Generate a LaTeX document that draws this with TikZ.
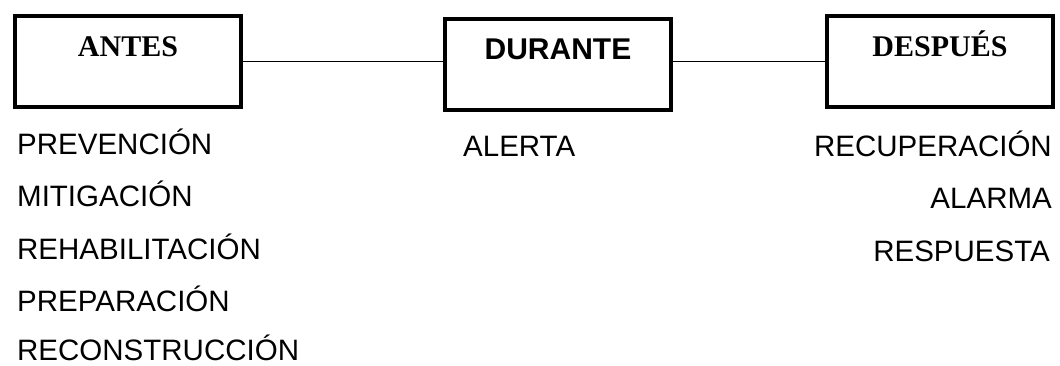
\documentclass[tikz,border=0pt]{standalone}
\usepackage{fontspec}
\setmainfont{Liberation Sans}
\newfontfamily\phaseserif{Liberation Serif}
\usepackage{tikz}

\tikzset{
	phasebox/.style={draw,line width=4.5pt,inner sep=0pt,anchor=base,
		minimum width=226pt,text height=41pt,text depth=50pt,
		font=\fontsize{30}{32}\selectfont\bfseries},
	link/.style={line width=1.5pt},
	item/.style={inner sep=0pt,font=\fontsize{29.5}{31}\selectfont}
}

\begin{document}
\begin{tikzpicture}[x=1pt,y=-1pt]
	\useasboundingbox (0,0) rectangle (1060,366);
	\node [phasebox,font=\fontsize{30}{32}\selectfont\phaseserif\bfseries] (antes) at (128,57) {ANTES};
	\node [phasebox] (durante) at (558,60) {DURANTE};
	\node [phasebox,font=\fontsize{30}{32}\selectfont\phaseserif\bfseries] (despues) at (940,57) {DESPUÉS};
	\draw [link] (antes.east) -- (antes.east -| durante.west);
	\draw [link] (durante.east |- antes.east) -- (antes.east -| despues.west);

	\node [item,anchor=base west] (prevencion) at (17,155) {PREVENCIÓN};
	\node [item,anchor=base west] (mitigacion) at (17,207) {MITIGACIÓN};
	\node [item,anchor=base west] (rehabilitacion) at (17,259) {REHABILITACIÓN};
	\node [item,anchor=base west] (preparacion) at (17,311) {PREPARACIÓN};
	\node [item,anchor=base west] (reconstruccion) at (17,360) {RECONSTRUCCIÓN};

	\node [item,anchor=base west] (alerta) at (463,157) {ALERTA};

	\node [item,anchor=base east] (recuperacion) at (1052,157) {RECUPERACIÓN};
	\node [item,anchor=base east] (alarma) at (1052,208) {ALARMA};
	\node [item,anchor=base east] (respuesta) at (1050,261) {RESPUESTA};
\end{tikzpicture}
\end{document}
